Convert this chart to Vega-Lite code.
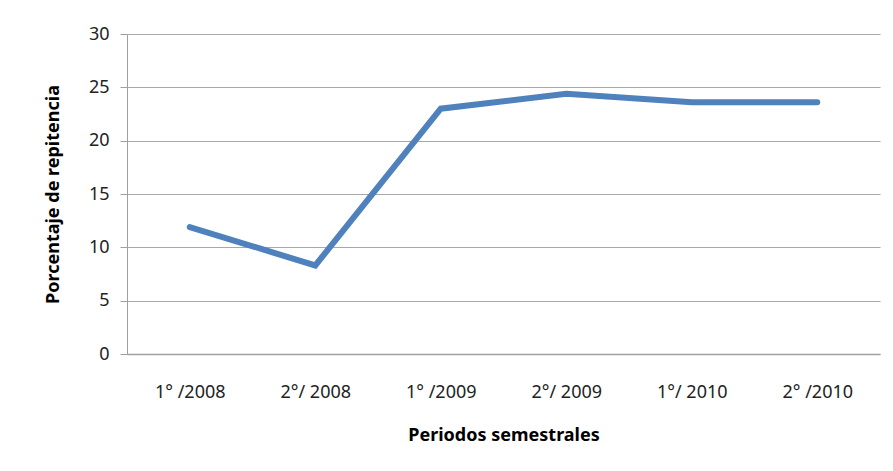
{
  "$schema": "https://vega.github.io/schema/vega-lite/v6.json",
  "width": 753,
  "height": 320,
  "autosize": {"type": "none"},
  "padding": {"left": 127, "top": 34, "right": 13, "bottom": 117},
  "background": "white",
  "config": {
    "font": "Noto Sans",
    "view": {"stroke": null}
  },
  "data": {
    "values": [
      {"periodo": "1° /2008", "valor": 11.9},
      {"periodo": "2°/ 2008", "valor": 8.3},
      {"periodo": "1° /2009", "valor": 23.0},
      {"periodo": "2°/ 2009", "valor": 24.4},
      {"periodo": "1°/ 2010", "valor": 23.6},
      {"periodo": "2° /2010", "valor": 23.6}
    ]
  },
  "mark": {"type": "line", "color": "#4F81BD", "strokeWidth": 6, "strokeCap": "round", "strokeJoin": "miter"},
  "encoding": {
    "x": {
      "field": "periodo",
      "type": "ordinal",
      "sort": null,
      "scale": {"type": "point", "padding": 0.5},
      "axis": {
        "title": "Periodos semestrales",
        "titleFontSize": 18,
        "titleFontWeight": "bold",
        "titleColor": "#000",
        "titlePadding": 25,
        "labelAngle": 0,
        "labelFontSize": 18,
        "labelColor": "#222",
        "labelPadding": 29,
        "ticks": false,
        "domainColor": "#a0a0a0",
        "domainWidth": 1.5,
        "grid": false
      }
    },
    "y": {
      "field": "valor",
      "type": "quantitative",
      "scale": {"domain": [0, 30]},
      "axis": {
        "title": "Porcentaje de repitencia",
        "titleFontSize": 18,
        "titleFontWeight": "bold",
        "titleColor": "#000",
        "titlePadding": 26,
        "values": [0, 5, 10, 15, 20, 25, 30],
        "labelFontSize": 18,
        "labelColor": "#222",
        "labelPadding": 11,
        "tickSize": 7,
        "tickColor": "#a0a0a0",
        "domainColor": "#a0a0a0",
        "grid": true,
        "gridColor": "#a8a8a8",
        "gridWidth": 1.2
      }
    }
  }
}
